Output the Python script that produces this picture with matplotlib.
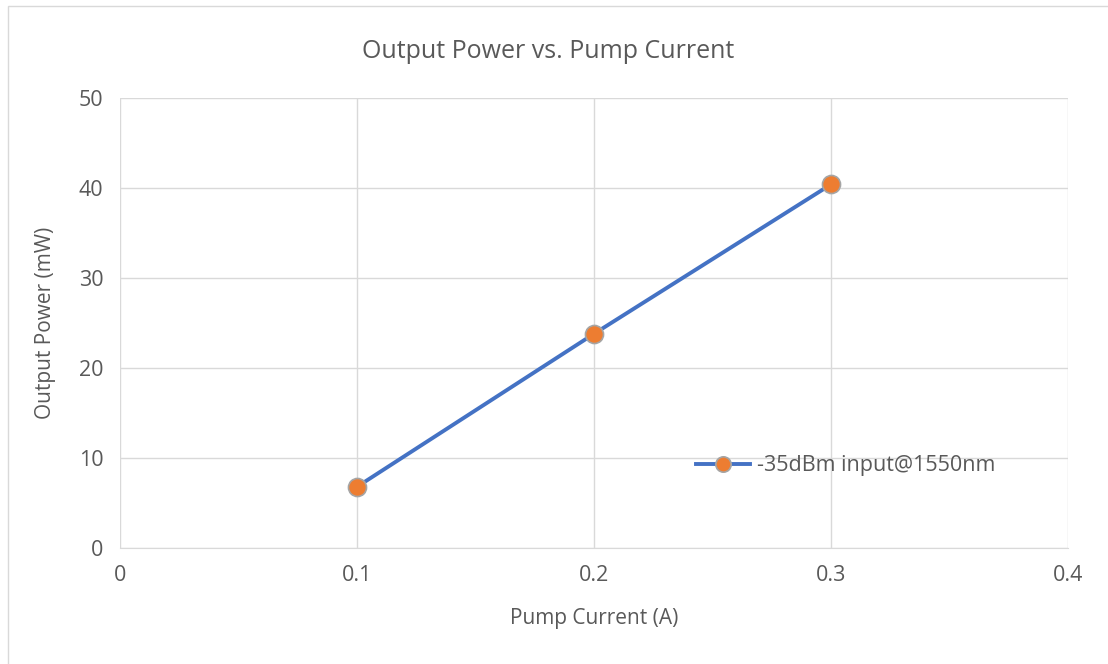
import matplotlib
matplotlib.use("Agg")
import matplotlib.pyplot as plt
from matplotlib.patches import Rectangle

pump_current = [0.1, 0.2, 0.3]
output_power = [6.8, 23.8, 40.4]
series_label = '-35dBm input@1550nm'

plt.rcParams['font.family'] = ['Open Sans', 'DejaVu Sans']
text_col = '#595959'
grid_col = '#d9d9d9'

fig = plt.figure(figsize=(11.08, 6.64), dpi=100)
# outer chart border like Excel
fig.patches.append(Rectangle((8 / 1108, -0.1), 1.2, 1 - 6 / 664 + 0.1,
                             transform=fig.transFigure, fill=False,
                             edgecolor='#d9d9d9', linewidth=1))
ax = fig.add_axes([120 / 1108, 1 - 548 / 664, 948 / 1108, 450 / 664])

ax.plot(pump_current, output_power, color='#4472c4', linewidth=2.8,
        marker='o', markersize=13, markerfacecolor='#ed7d31',
        markeredgecolor='#a5a5a5', markeredgewidth=1.2, label=series_label)

ax.set_xlim(0, 0.4)
ax.set_ylim(0, 50)
ax.set_xticks([0, 0.1, 0.2, 0.3, 0.4])
ax.set_xticklabels(['0', '0.1', '0.2', '0.3', '0.4'])
ax.set_yticks(range(0, 51, 10))
ax.grid(True, color=grid_col, linewidth=1)
ax.set_axisbelow(True)
for s in ['top', 'right', 'left']:
    ax.spines[s].set_visible(False)
ax.spines['bottom'].set_color(grid_col)
ax.tick_params(length=0, labelsize=15.5, colors=text_col, pad=12)

ax.set_xlabel('Pump Current (A)', fontsize=15, color=text_col, labelpad=16)
ax.set_ylabel('Output Power (mW)', fontsize=15, color=text_col, labelpad=16)
fig.text(548 / 1108, 1 - 52 / 664, 'Output Power vs. Pump Current',
         ha='center', va='center', fontsize=18, color=text_col)

leg = ax.legend(loc='center left', bbox_to_anchor=(677 / 1108, 1 - 466 / 664),
                bbox_transform=fig.transFigure, frameon=False, fontsize=15.5,
                handlelength=2.5, handletextpad=0.3, markerscale=0.85)
for t in leg.get_texts():
    t.set_color(text_col)

fig.savefig('out.png', dpi=100)
